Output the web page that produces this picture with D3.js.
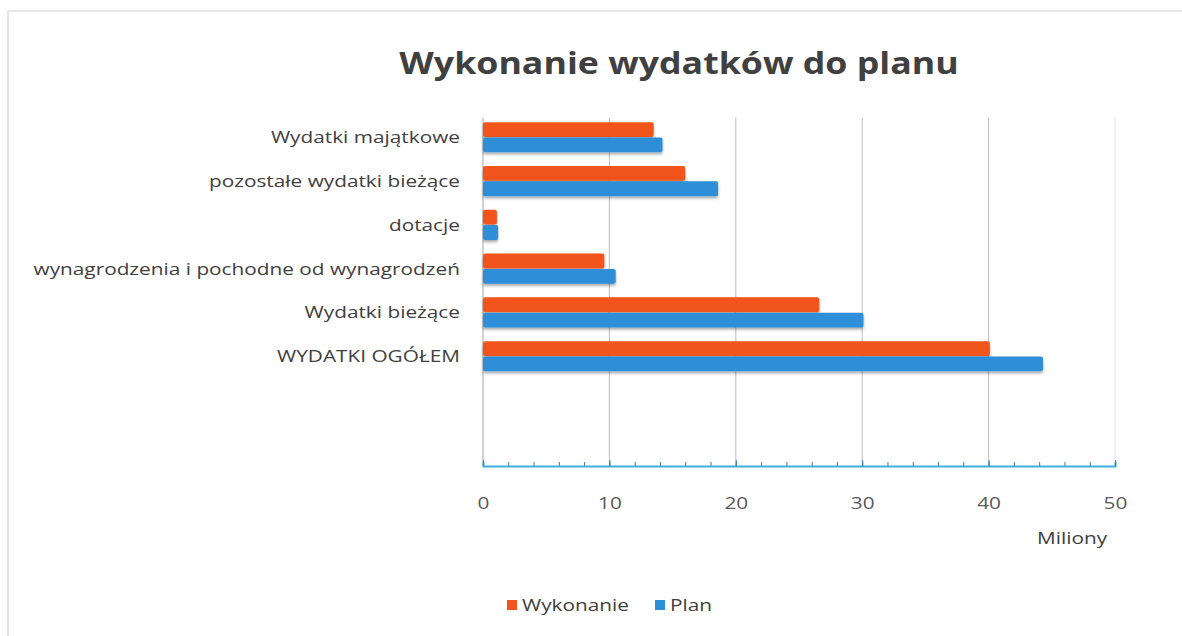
<!DOCTYPE html>
<html>
<head>
<meta charset="utf-8">
<script src="https://cdn.jsdelivr.net/npm/d3@7"></script>
<style>
  body { margin: 0; background: #fff; }
  text { font-family: "Open Sans", sans-serif; }
</style>
</head>
<body>
<div class="chart"></div>
<script>
// Data
var categories = ["Wydatki majątkowe", "pozostałe wydatki bieżące", "dotacje",
    "wynagrodzenia i pochodne od wynagrodzeń", "Wydatki bieżące", "WYDATKI OGÓŁEM"];
var seriesNames = ["Wykonanie", "Plan"];
var wykonanie = [13.5, 16.0, 1.1, 9.6, 26.6, 40.1];
var plan = [14.2, 18.6, 1.2, 10.5, 30.1, 44.3];
var xTicks = [0, 10, 20, 30, 40, 50];
var minorTicks = [0, 2, 4, 6, 8, 10, 12, 14, 16, 18, 20, 22, 24, 26, 28, 30, 32, 34, 36, 38, 40, 42, 44, 46, 48, 50];
var emptySlots = ["_a", "_b"];
var title = "Wykonanie wydatków do planu";
var unitLabel = "Miliony";

var colors = {Wykonanie: "#f2541e", Plan: "#2f8ed8"};
var stretch = 1.3; // scan is wider than tall

var svgWidth = 1182, svgHeight = 636;
var margin = {top: 115.6, left: 483, right: 67, bottom: 170};
var width = svgWidth - margin.left - margin.right;
var height = svgHeight - margin.top - margin.bottom;

var svg = d3.select(".chart").append("svg")
    .attr("width", svgWidth)
    .attr("height", svgHeight);

// soft shadow under bars
var defs = svg.append("defs");
var f = defs.append("filter").attr("id", "shadow")
    .attr("x", "-5%").attr("y", "-30%").attr("width", "110%").attr("height", "180%");
f.append("feDropShadow").attr("dx", 0).attr("dy", 2).attr("stdDeviation", 1.6)
    .attr("flood-color", "#000").attr("flood-opacity", 0.35);

// frame
svg.append("path")
    .attr("d", "M8,636 L8,11 L1182,11")
    .attr("fill", "none").attr("stroke", "#d4d4d4").attr("stroke-width", 1.2);

// title
svg.append("text")
    .attr("transform", `translate(679, 74) scale(1.19,1)`)
    .attr("text-anchor", "middle")
    .attr("font-size", 30)
    .attr("font-weight", "bold")
    .attr("fill", "#404040")
    .text(title);

var chartGroup = svg.append("g")
    .attr("transform", `translate(${margin.left}, ${margin.top})`);

var xScale = d3.scaleLinear().domain([0, 50]).range([0, width]);
var yScale = d3.scaleBand()
    .domain(categories.concat(emptySlots))
    .range([0, height])
    .paddingInner(0.3)
    .paddingOuter(0.15);
var ySub = d3.scaleBand().domain(seriesNames).range([0, yScale.bandwidth()]);

// gridlines
chartGroup.selectAll(".grid")
    .data(xTicks)
    .enter().append("line")
    .attr("x1", d => xScale(d)).attr("x2", d => xScale(d))
    .attr("y1", 2).attr("y2", height)
    .attr("stroke", d => d === 0 ? "#a6a6a6" : (d === 50 ? "#e6e6e6" : "#bdbdbd"))
    .attr("stroke-width", 1);

// bars
var rows = categories.map((c, i) => ({cat: c, Wykonanie: wykonanie[i], Plan: plan[i]}));
var groups = chartGroup.selectAll(".row")
    .data(rows)
    .enter().append("g")
    .attr("transform", d => `translate(0, ${yScale(d.cat)})`);
groups.selectAll("rect")
    .data(d => seriesNames.map(s => ({key: s, value: d[s]})))
    .enter().append("rect")
    .attr("x", xScale(0))
    .attr("y", d => ySub(d.key))
    .attr("width", d => xScale(d.value) - xScale(0))
    .attr("height", ySub.bandwidth() - 0.5)
    .attr("rx", 2)
    .attr("fill", d => colors[d.key])
    .attr("filter", "url(#shadow)");

// category labels
chartGroup.selectAll(".cat")
    .data(categories)
    .enter().append("text")
    .attr("transform", d => `translate(-23, ${yScale(d) + yScale.bandwidth() / 2}) scale(${stretch},1)`)
    .attr("dy", "0.35em")
    .attr("text-anchor", "end")
    .attr("font-size", 16)
    .attr("fill", "#404040")
    .text(d => d);

// x axis: minor ticks, then major ticks with labels
var minorAxis = d3.axisBottom(xScale).tickValues(minorTicks).tickSize(-4).tickFormat("");
var majorAxis = d3.axisBottom(xScale).tickValues(xTicks).tickSize(-6).tickPadding(32).tickFormat(d3.format("d"));
var gMinor = chartGroup.append("g").attr("transform", `translate(0, ${height})`).call(minorAxis);
gMinor.select(".domain").attr("stroke", "#3fb0d9").attr("stroke-width", 2);
gMinor.selectAll(".tick line").attr("stroke", "#3a7fb0");
var gMajor = chartGroup.append("g").attr("transform", `translate(0, ${height})`).call(majorAxis);
gMajor.select(".domain").remove();
gMajor.selectAll(".tick line").attr("stroke", "#3a7fb0");
gMajor.selectAll(".tick text")
    .attr("font-size", 16)
    .attr("font-family", "Open Sans, sans-serif")
    .attr("fill", "#595959")
    .attr("transform", `scale(${stretch},1)`);

// unit label
svg.append("text")
    .attr("transform", `translate(1072, 544) scale(${stretch},1)`)
    .attr("text-anchor", "middle")
    .attr("font-size", 16)
    .attr("fill", "#404040")
    .text(unitLabel);

// legend
var legend = svg.append("g").attr("transform", "translate(507, 605)");
var lx = 0;
seriesNames.forEach(function(name) {
    legend.append("rect")
        .attr("x", lx).attr("y", -5)
        .attr("width", 10).attr("height", 10)
        .attr("fill", colors[name]);
    var t = legend.append("text")
        .attr("transform", `translate(${lx + 15}, 0) scale(${stretch},1)`)
        .attr("dy", "0.35em")
        .attr("font-size", 16)
        .attr("fill", "#404040")
        .text(name);
    lx += 15 + t.node().getComputedTextLength() * stretch + 26;
});
</script>
</body>
</html>
